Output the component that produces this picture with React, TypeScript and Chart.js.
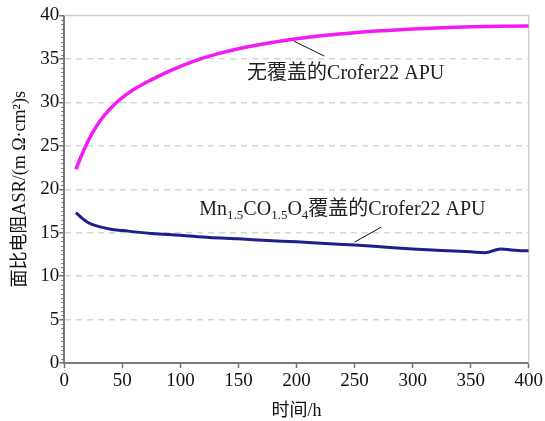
import React, { useEffect, useRef } from "react";
import { Chart, registerables } from "chart.js";

Chart.register(...registerables);

// ---- data ----
const hoursUncoated = [10, 15, 20, 25, 30, 35, 40, 45, 50, 60, 70, 80, 90, 100, 110, 120, 135, 150, 175, 200, 225, 250, 275, 300, 325, 350, 375, 400];
const asrUncoated = [22.3, 23.95, 25.4, 26.65, 27.7, 28.58, 29.33, 29.98, 30.55, 31.5, 32.25, 32.93, 33.56, 34.14, 34.66, 35.12, 35.7, 36.18, 36.8, 37.32, 37.72, 38.02, 38.25, 38.45, 38.6, 38.7, 38.75, 38.8];

const hoursCoated = [10, 15, 20, 25, 30, 40, 50, 75, 100, 125, 150, 175, 200, 225, 250, 275, 300, 325, 350, 362, 366, 370, 376, 385, 397, 400];
const asrCoated = [17.3, 16.7, 16.2, 15.9, 15.7, 15.4, 15.25, 14.9, 14.7, 14.45, 14.3, 14.1, 13.95, 13.75, 13.58, 13.35, 13.12, 12.95, 12.8, 12.7, 12.78, 12.95, 13.12, 13.02, 12.92, 12.92];

const xTicks = [0, 50, 100, 150, 200, 250, 300, 350, 400];
const yTicks = [0, 5, 10, 15, 20, 25, 30, 35, 40];

const labelUncoated = "无覆盖的Crofer22 APU";
const labelCoatedParts = [
  { t: "Mn" }, { t: "1.5", sub: true }, { t: "CO" }, { t: "1.5", sub: true },
  { t: "O" }, { t: "4", sub: true }, { t: "覆盖的Crofer22 APU" },
];
// annotation anchors in data coordinates [x, y]
const noteUncoatedText = [157.4, 33.26];
const noteUncoatedLine = [[197.7, 37.05], [224, 35.33]];
const noteCoatedText = [116.3, 17.6];
const noteCoatedLine = [[273.1, 15.65], [250, 13.92]];

const xTitle = "时间/h";
const yTitle = "面比电阻ASR/(m Ω·cm²)s";

const FONT = '"Liberation Serif", "Noto Sans CJK SC", serif';

const overlay = {
  id: "overlay",
  beforeDatasetsDraw(chart: any) {
    const { ctx, chartArea: a } = chart;
    ctx.save();
    ctx.strokeStyle = "#d0d0d0";
    ctx.lineWidth = 1.5;
    ctx.beginPath();
    ctx.moveTo(a.left, a.top);
    ctx.lineTo(a.right, a.top);
    ctx.lineTo(a.right, a.bottom);
    ctx.stroke();
    ctx.restore();
  },
  afterDraw(chart: any) {
    const { ctx, scales } = chart;
    const xs = scales.x, ys = scales.y;
    ctx.save();
    // minor y ticks
    ctx.strokeStyle = "#707070";
    ctx.lineWidth = 1;
    for (let v = 0; v <= 40.001; v += 0.5) {
      if (Math.abs(v % 5) < 0.01) continue;
      const py = Math.round(ys.getPixelForValue(v)) + 0.5;
      ctx.beginPath();
      ctx.moveTo(xs.left - 3, py);
      ctx.lineTo(xs.left, py);
      ctx.stroke();
    }
    // annotations
    ctx.fillStyle = "#222";
    ctx.textBaseline = "middle";
    ctx.textAlign = "left";
    ctx.font = "20px " + FONT;
    ctx.fillText(labelUncoated, xs.getPixelForValue(noteUncoatedText[0]), ys.getPixelForValue(noteUncoatedText[1]));
    let cx = xs.getPixelForValue(noteCoatedText[0]);
    const cy = ys.getPixelForValue(noteCoatedText[1]);
    for (const p of labelCoatedParts) {
      if ((p as any).sub) {
        ctx.font = "13px " + FONT;
        ctx.fillText(p.t, cx, cy + 5);
      } else {
        ctx.font = "20px " + FONT;
        ctx.fillText(p.t, cx, cy);
      }
      cx += ctx.measureText(p.t).width;
    }
    ctx.strokeStyle = "#111";
    ctx.lineWidth = 1;
    for (const ln of [noteUncoatedLine, noteCoatedLine]) {
      ctx.beginPath();
      ctx.moveTo(xs.getPixelForValue(ln[0][0]), ys.getPixelForValue(ln[0][1]));
      ctx.lineTo(xs.getPixelForValue(ln[1][0]), ys.getPixelForValue(ln[1][1]));
      ctx.stroke();
    }
    ctx.restore();
  },
};

export default function App() {
  const ref = useRef<HTMLCanvasElement>(null);
  useEffect(() => {
    document.body.style.margin = "0";
    const c = ref.current!;
    const chart = new Chart(c, {
      type: "line",
      data: {
        datasets: [
          {
            data: hoursUncoated.map((x, i) => ({ x, y: asrUncoated[i] })),
            borderColor: "#f21cf2",
            borderWidth: 3.5,
            pointRadius: 0,
            cubicInterpolationMode: "monotone",
          },
          {
            data: hoursCoated.map((x, i) => ({ x, y: asrCoated[i] })),
            borderColor: "#1e1e8c",
            borderWidth: 3,
            pointRadius: 0,
            cubicInterpolationMode: "monotone",
          },
        ],
      },
      options: {
        animation: false,
        responsive: false,
        devicePixelRatio: 1,
        layout: { padding: { top: 15.5, right: 14, left: 0, bottom: 0 } },
        plugins: { legend: { display: false }, tooltip: { enabled: false } },
        scales: {
          x: {
            type: "linear",
            min: 0,
            max: 400,
            afterBuildTicks: (s: any) => { s.ticks = xTicks.map((v) => ({ value: v })); },
            afterFit: (s: any) => { s.height = 58; },
            ticks: { color: "#111", font: { family: FONT, size: 19 }, padding: 2, maxRotation: 0 },
            grid: { drawOnChartArea: false, drawTicks: true, tickLength: 5, tickColor: "#707070", tickWidth: 1.5 },
            border: { color: "#7a7a7a", width: 2 },
            title: { display: true, text: xTitle, color: "#111", font: { family: FONT, size: 18 }, padding: { top: 0, bottom: -1 } },
          },
          y: {
            type: "linear",
            min: 0,
            max: 40,
            afterBuildTicks: (s: any) => { s.ticks = yTicks.map((v) => ({ value: v })); },
            afterFit: (s: any) => { s.width = 64.3; },
            ticks: { color: "#111", font: { family: FONT, size: 19 }, padding: 0 },
            grid: {
              color: (ctx: any) => (ctx.tick && (ctx.tick.value === 0 || ctx.tick.value === 40) ? "rgba(0,0,0,0)" : "#d6d6d6"),
              lineWidth: 1.5,
              tickLength: 5,
              tickColor: "#707070",
              tickWidth: 1.5,
            },
            border: { color: "#7a7a7a", width: 2, dash: [6, 5] },
            title: { display: true, text: yTitle, color: "#111", font: { family: FONT, size: 18 }, padding: { top: 9, bottom: 0 } },
          },
        },
      },
      plugins: [overlay],
    } as any);
    return () => chart.destroy();
  }, []);
  return <canvas ref={ref} width={545} height={421} style={{ display: "block" }} />;
}
